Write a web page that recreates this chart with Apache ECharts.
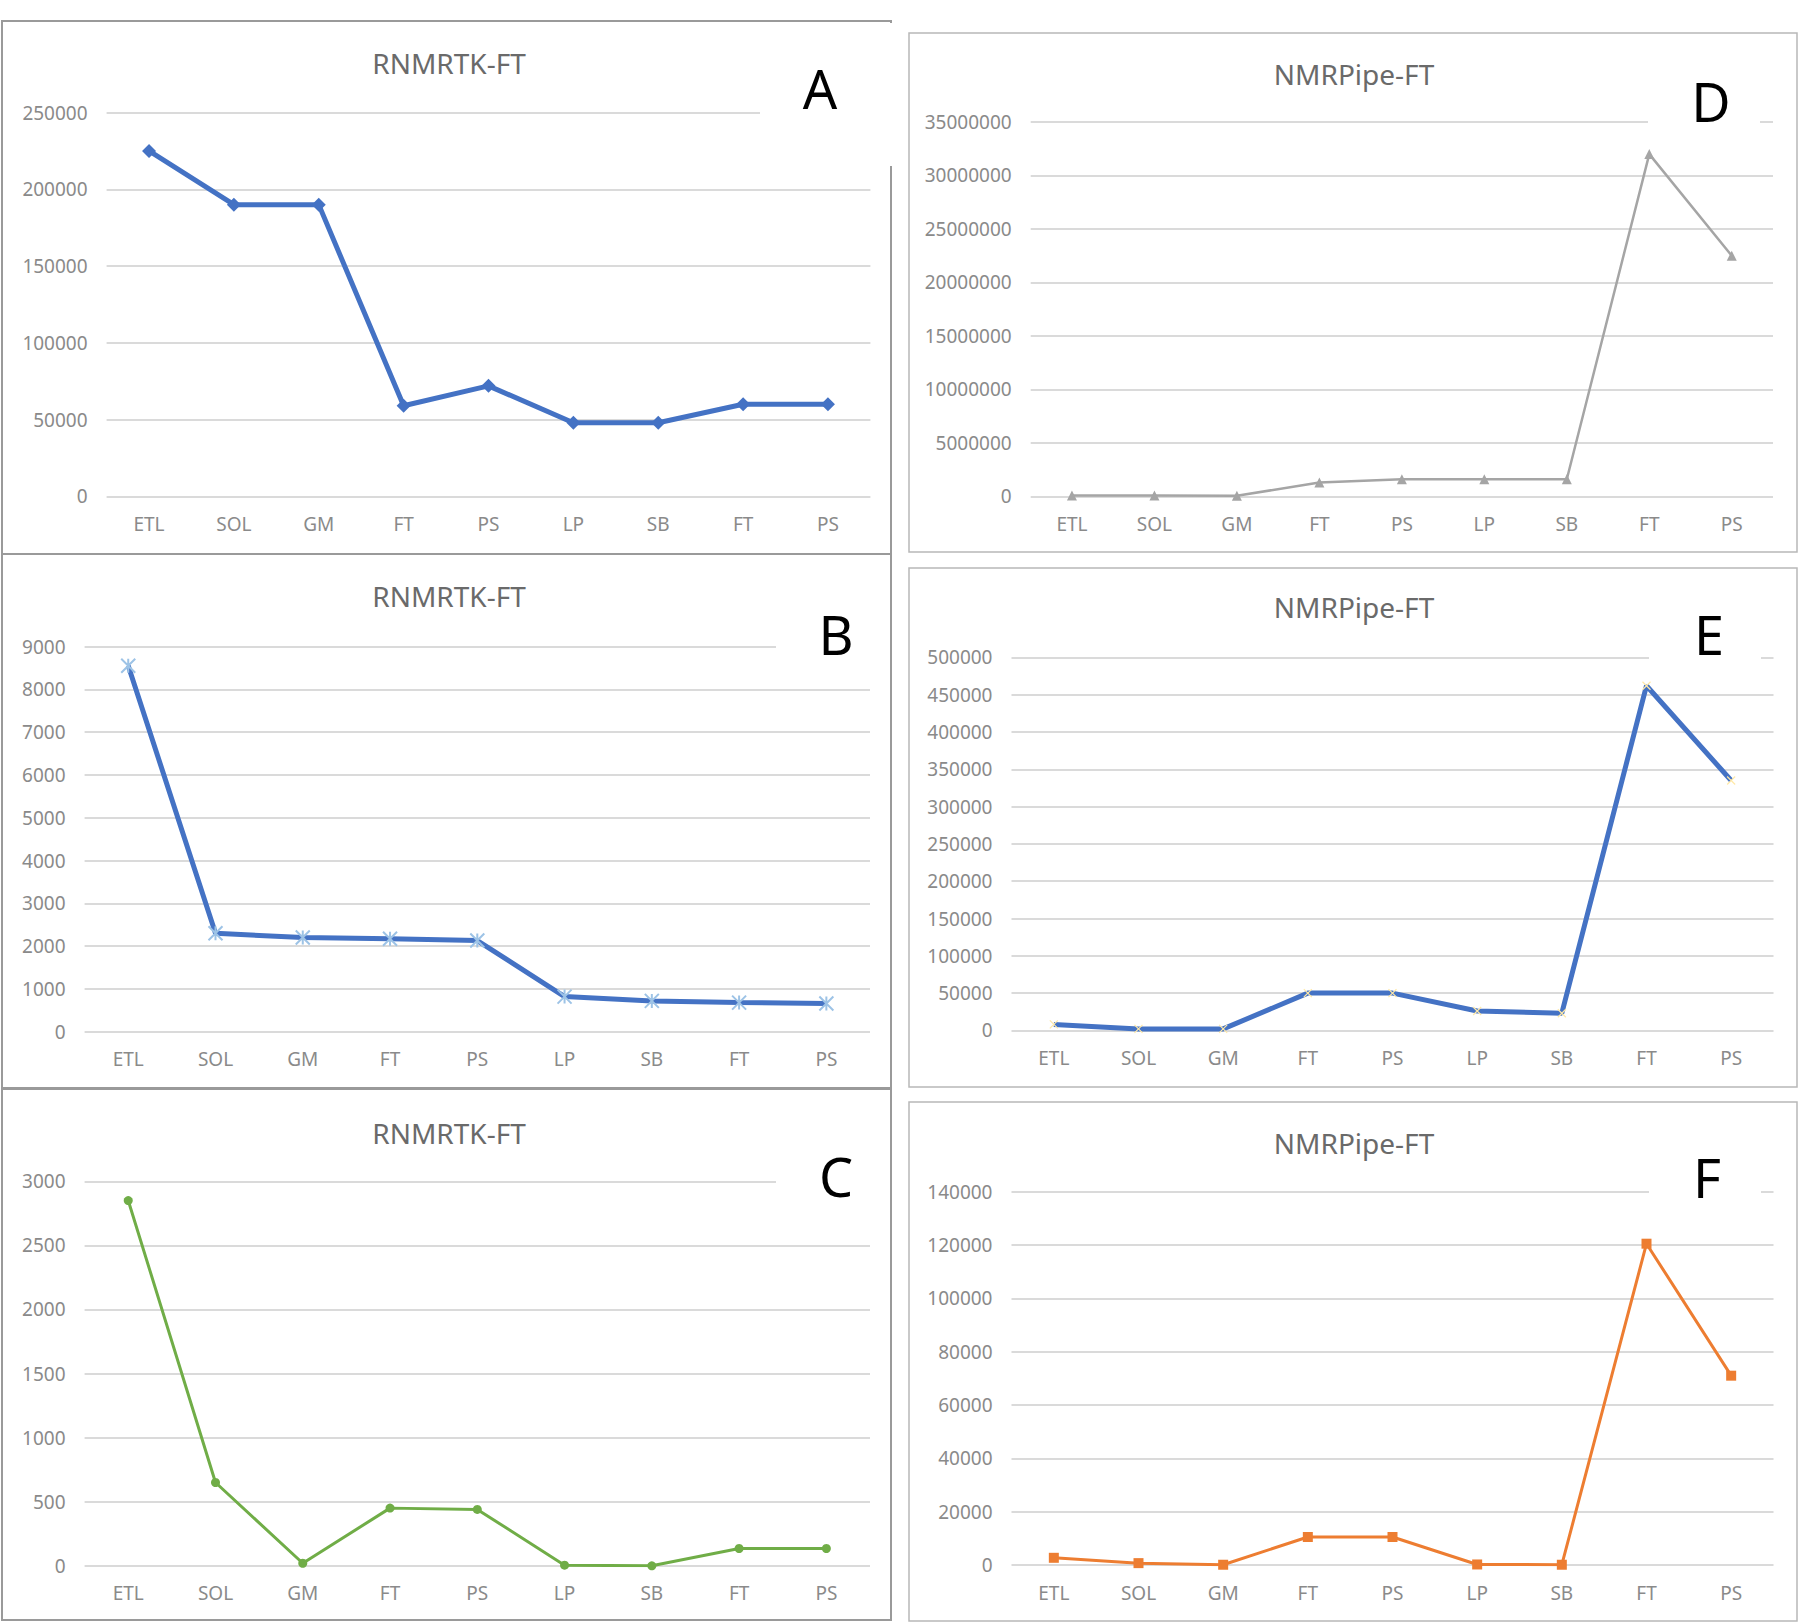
<!DOCTYPE html>
<html>
<head>
<meta charset="utf-8">
<script src="https://cdn.jsdelivr.net/npm/echarts@6/dist/echarts.min.js"></script>
<style>
html,body{margin:0;padding:0;background:#fff;}
#chart{width:1800px;height:1624px;}
</style>
</head>
<body>
<div id="chart"></div>
<script>
// ---- data ----
const categories = ['ETL','SOL','GM','FT','PS','LP','SB','FT','PS'];
const titles = ['RNMRTK-FT','RNMRTK-FT','RNMRTK-FT','NMRPipe-FT','NMRPipe-FT','NMRPipe-FT'];
const panelLetters = ['A','B','C','D','E','F'];
const valuesA = [225000, 190000, 190000, 59000, 72000, 48000, 48000, 60000, 60000];
const valuesB = [8550, 2300, 2200, 2170, 2130, 820, 720, 680, 660];
const valuesC = [2850, 650, 20, 450, 440, 5, 0, 135, 135];
const valuesD = [80000, 80000, 60000, 1300000, 1600000, 1600000, 1600000, 32000000, 22500000];
const valuesE = [8000, 2000, 2000, 50000, 50000, 26000, 23000, 462000, 335000];
const valuesF = [2700, 700, 100, 10500, 10500, 200, 100, 120500, 71000];
const yMaxes = [250000, 9000, 3000, 35000000, 500000, 140000];
const yIntervals = [50000, 1000, 500, 5000000, 50000, 20000];

// ---- layout / style ----
const FONT = '"Noto Sans", "Open Sans", sans-serif';
const grids = [
  {left:106.6, top:112.5, width:763.8, height:383.9},
  {left:84.6,  top:646.5, width:785.4, height:385.2},
  {left:84.6,  top:1181.3,width:785.4, height:384.5},
  {left:1030.7,top:122,   width:742.3, height:374.4},
  {left:1011.5,top:657.4, width:762,   height:373},
  {left:1011.5,top:1191.7,width:762,   height:373.3}
];
const frames = [
  {x:2, y:21, w:889, h:533, c:'#9a9a9a', lw:2},
  {x:2, y:554, w:889, h:534, c:'#9a9a9a', lw:2},
  {x:2, y:1089, w:889, h:531, c:'#9a9a9a', lw:2},
  {x:909, y:33, w:888, h:519, c:'#b8b8b8', lw:1.5},
  {x:909, y:568, w:888, h:519, c:'#b8b8b8', lw:1.5},
  {x:909, y:1102, w:888, h:519, c:'#b8b8b8', lw:1.5}
];
const titlePos = [[449,63],[449,596],[449,1133],[1354,74],[1354,607],[1354,1143]];
const letterPos = [[820,88],[836,634],[836,1176],[1711,101],[1709,634],[1707,1177]];
const labelBoxes = [
  {x:760, y:23, w:138, h:143},
  {x:776, y:558, w:113, h:112},
  {x:776, y:1093, w:113, h:117},
  {x:1648, y:40, w:112, h:105},
  {x:1649, y:575, w:112, h:95},
  {x:1649, y:1108, w:112, h:97}
];
const seriesStyles = [
  {color:'#4472C4', width:5, symbol:'diamond', size:14, item:{color:'#4472C4'}},
  {color:'#4472C4', width:5, symbol:'path://M0,0L10,10M10,0L0,10M5,0L5,10', size:14,
    item:{color:'rgba(0,0,0,0)', borderColor:'#9dc3e6', borderWidth:2}},
  {color:'#70AD47', width:3, symbol:'circle', size:9, item:{color:'#70AD47'}},
  {color:'#A5A5A5', width:2.5, symbol:'triangle', size:10, item:{color:'#A5A5A5'}},
  {color:'#4472C4', width:5, symbol:'path://M0,0L10,10M10,0L0,10', size:8,
    item:{color:'rgba(0,0,0,0)', borderColor:'#ffe9a8', borderWidth:1.2}},
  {color:'#ED7D31', width:3, symbol:'rect', size:10, item:{color:'#ED7D31'}}
];
const allValues = [valuesA, valuesB, valuesC, valuesD, valuesE, valuesF];

const option = {
  animation:false,
  backgroundColor:'#ffffff',
  grid:[], xAxis:[], yAxis:[], series:[], graphic:[]
};

for (let i = 0; i < 6; i++) {
  option.grid.push(Object.assign({containLabel:false}, grids[i]));
  option.xAxis.push({
    type:'category', gridIndex:i, data:categories, boundaryGap:true,
    axisLine:{show:false}, axisTick:{show:false},
    axisLabel:{color:'#8a8a8a', fontSize:19, fontFamily:FONT, margin:18, interval:0}
  });
  option.yAxis.push({
    type:'value', gridIndex:i, min:0, max:yMaxes[i], interval:yIntervals[i],
    axisLine:{show:false}, axisTick:{show:false},
    axisLabel:{color:'#8a8a8a', fontSize:19, fontFamily:FONT, margin:19,
      formatter:function(v){ return String(v); }},
    splitLine:{show:true, lineStyle:{color:'#dadada', width:2}}
  });
  const s = seriesStyles[i];
  option.series.push({
    type:'line', xAxisIndex:i, yAxisIndex:i, data:allValues[i],
    symbol:s.symbol, symbolSize:s.size, showAllSymbol:true,
    lineStyle:{color:s.color, width:s.width},
    itemStyle:s.item, z:3
  });
  const f = frames[i];
  option.graphic.push({
    type:'rect', z:1, shape:{x:f.x, y:f.y, width:f.w, height:f.h},
    style:{fill:'none', stroke:f.c, lineWidth:f.lw}, silent:true
  });
  const b = labelBoxes[i];
  option.graphic.push({
    type:'rect', z:2, shape:{x:b.x, y:b.y, width:b.w, height:b.h},
    style:{fill:'#ffffff'}, silent:true
  });
  option.graphic.push({
    type:'text', z:4, x:titlePos[i][0], y:titlePos[i][1],
    style:{text:titles[i], fill:'#6a6a6a', font:'28px ' + FONT, textAlign:'center', textVerticalAlign:'middle'},
    silent:true
  });
  option.graphic.push({
    type:'text', z:4, x:letterPos[i][0], y:letterPos[i][1],
    style:{text:panelLetters[i], fill:'#000000', font:'54px ' + FONT, textAlign:'center', textVerticalAlign:'middle'},
    silent:true
  });
}

const chart = echarts.init(document.getElementById('chart'), null, {renderer:'svg', width:1800, height:1624});
chart.setOption(option);
</script>
</body>
</html>
